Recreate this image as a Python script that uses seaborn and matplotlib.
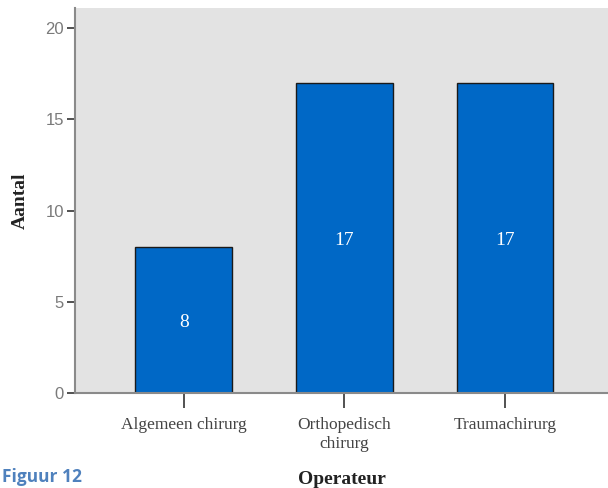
import matplotlib
matplotlib.use("Agg")
import matplotlib.pyplot as plt
import seaborn as sns
import pandas as pd

categories = ["Algemeen chirurg", "Orthopedisch\nchirurg", "Traumachirurg"]
counts = [8, 17, 17]
yticks = [0, 5, 10, 15, 20]

sns.set_style("white")
df = pd.DataFrame({"Operateur": categories, "Aantal": counts})

fig = plt.figure(figsize=(6.08, 4.88), dpi=100)
ax = fig.add_axes([0.1234, 0.1947, 0.8766, 0.7889])
ax.set_facecolor("#e3e3e3")

sns.barplot(data=df, x="Operateur", y="Aantal", color="#0068c6",
            saturation=1, width=0.6, edgecolor="#1a1a1a", linewidth=1.0, ax=ax)

for i, v in enumerate(counts):
    ax.text(i, v / 2 - 0.15, str(v), ha="center", va="center", color="white",
            fontsize=14, family="Liberation Serif")

ax.set_ylim(0, 21.1)
ax.set_xlim(-0.676, 2.64)
ax.set_yticks(yticks)
ax.set_yticklabels([str(t) for t in yticks], family="Liberation Sans",
                   color="#7a7a7a", fontsize=12)
ax.set_xticks(range(len(categories)))
ax.set_xticklabels(categories, family="Liberation Serif", color="#444444",
                   fontsize=12.5, linespacing=1.25)
ax.tick_params(axis="both", direction="out", length=6, width=1.2,
               color="#333333", pad=2, bottom=True, left=True)
ax.tick_params(axis="x", length=11, pad=6)

for s in ["top", "right"]:
    ax.spines[s].set_visible(False)
for s in ["left", "bottom"]:
    ax.spines[s].set_color("#8a8a8a")
    ax.spines[s].set_linewidth(1.5)

ax.set_xlabel("Operateur", family="Liberation Serif", fontweight="bold",
              fontsize=14, color="#222222", labelpad=14)
ax.set_ylabel("Aantal", family="Liberation Serif", fontweight="bold",
              fontsize=14, color="#222222", labelpad=12)

fig.text(0.003, 0.004, "Figuur 12", family="Open Sans", fontweight="bold",
         color="#4f81bd", fontsize=12.5, ha="left", va="bottom")

fig.savefig("out.png", dpi=100)
